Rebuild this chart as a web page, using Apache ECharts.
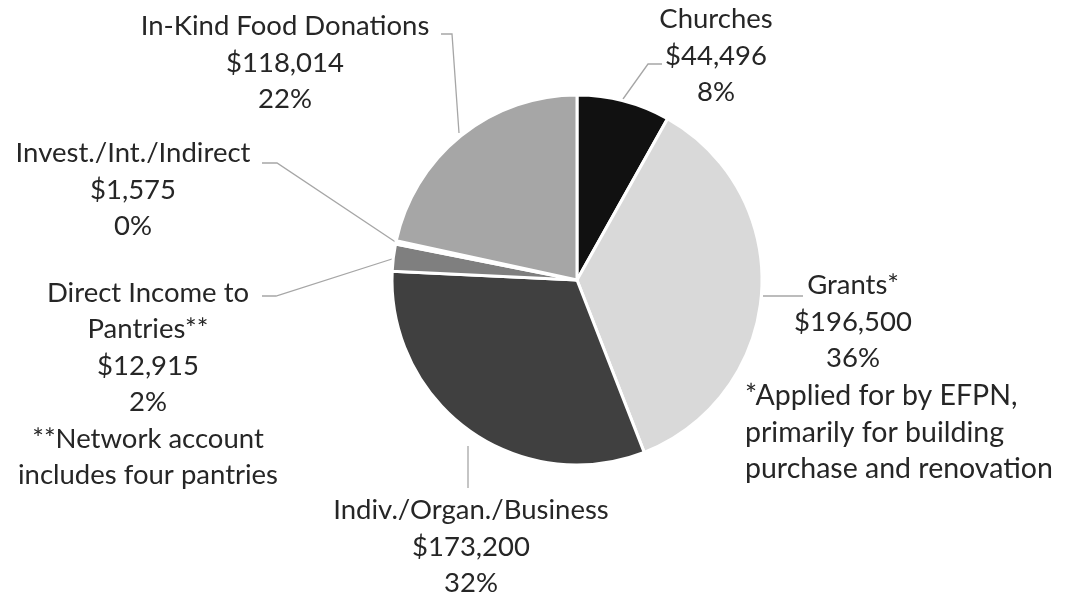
<!DOCTYPE html>
<html>
<head>
<meta charset="utf-8">
<script src="https://cdn.jsdelivr.net/npm/echarts@6/dist/echarts.min.js"></script>
<style>
  html, body { margin: 0; padding: 0; background: #ffffff; }
  #chart { width: 1068px; height: 597px; }
</style>
</head>
<body>
<div id="chart"></div>
<script>
// income sources, clockwise from 12 o'clock
const categories = ['Churches', 'Grants*', 'Indiv./Organ./Business', 'Direct Income to\nPantries**', 'Invest./Int./Indirect', 'In-Kind Food Donations'];
const amounts = [44496, 196500, 173200, 12915, 1575, 118014];
const sliceColors = ['#111111', '#d9d9d9', '#404040', '#7f7f7f', '#ffffff', '#a6a6a6'];
const footnotes = ['', '', '', '**Network account\nincludes four pantries', '', ''];
const grantsNote = '*Applied for by EFPN,\nprimarily for building\npurchase and renovation';

// where each label block sits and how its leader line runs
const labelPos = [
  { x: 716, y: 56, line: [[623, 99], [648, 64], [662, 64]] },
  { x: 853, y: 322, line: [[763, 296], [803, 296]] },
  { x: 471, y: 547, line: [[468, 446], [468, 488]] },
  { x: 148, y: 384, line: [[392, 259], [276, 296], [262, 296]] },
  { x: 133, y: 190, line: [[397, 243], [277, 163], [262, 163]] },
  { x: 285, y: 63, line: [[459, 133], [452, 34], [441, 34]] }
];

const fontFamily = 'Lato, "Open Sans", sans-serif';
const textColor = '#262626';
const fontSize = 27.5;

const chart = echarts.init(document.getElementById('chart'));

const option = {
  backgroundColor: '#ffffff',
  animation: false,
  graphic: [{
    type: 'text',
    left: 745,
    top: 378,
    style: {
      text: grantsNote,
      fill: textColor,
      font: '28.5px ' + fontFamily,
      lineHeight: 36.5
    }
  }],
  series: [{
    type: 'pie',
    center: [577, 280],
    radius: [0, 185],
    startAngle: 90,
    clockwise: true,
    avoidLabelOverlap: false,
    itemStyle: { borderColor: '#ffffff', borderWidth: 3 },
    label: {
      show: true,
      color: textColor,
      fontFamily: fontFamily,
      fontSize: fontSize,
      lineHeight: 36.5,
      align: 'center',
      formatter: function (p) {
        let s = p.name + '\n$' + p.value.toLocaleString('en-US') + '\n' + Math.round(p.percent) + '%';
        if (footnotes[p.dataIndex]) s += '\n' + footnotes[p.dataIndex];
        return s;
      }
    },
    labelLine: {
      show: true,
      lineStyle: { color: '#a6a6a6', width: 1.3 }
    },
    labelLayout: function (p) {
      const pos = labelPos[p.dataIndex];
      return {
        x: pos.x,
        y: pos.y,
        align: 'center',
        verticalAlign: 'middle',
        labelLinePoints: pos.line
      };
    },
    data: categories.map((c, i) => ({
      name: c,
      value: amounts[i],
      itemStyle: { color: sliceColors[i] }
    }))
  }]
};

chart.setOption(option);
</script>
</body>
</html>
